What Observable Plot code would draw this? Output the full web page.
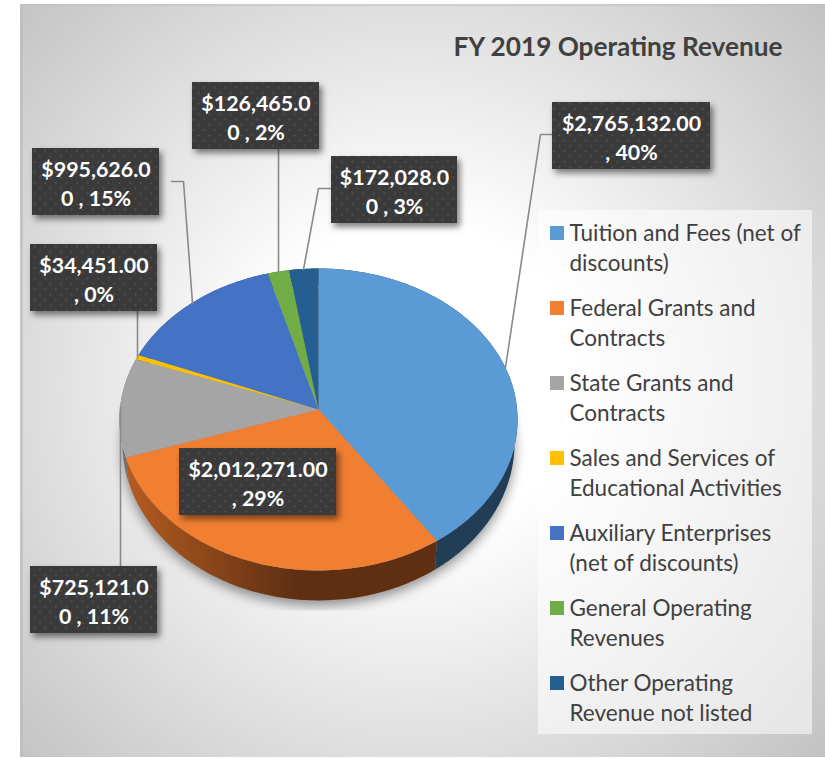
<!DOCTYPE html>
<html>
<head>
<meta charset="utf-8">
<script src="https://cdn.jsdelivr.net/npm/d3@7"></script>
<script src="https://cdn.jsdelivr.net/npm/@observablehq/plot@0.6"></script>
<style>
html,body{margin:0;padding:0;background:#fff}
svg{display:block}
</style>
</head>
<body>
<div id="chart"></div>
<script>
// ---- data ----
const categories = [
  "Tuition and Fees (net of discounts)",
  "Federal Grants and Contracts",
  "State Grants and Contracts",
  "Sales and Services of Educational Activities",
  "Auxiliary Enterprises (net of discounts)",
  "General Operating Revenues",
  "Other Operating Revenue not listed"
];
const values = [2765132, 2012271, 725121, 34451, 995626, 126465, 172028];
const percents = [40, 29, 11, 0, 15, 2, 3];
const colors = ["#5b9bd5", "#f07f32", "#a5a5a5", "#ffc000", "#4472c4", "#70ad47", "#255e91"];
const legendLines = [
  "Tuition and Fees (net of\ndiscounts)",
  "Federal Grants and\nContracts",
  "State Grants and\nContracts",
  "Sales and Services of\nEducational Activities",
  "Auxiliary Enterprises\n(net of discounts)",
  "General Operating\nRevenues",
  "Other Operating\nRevenue not listed"
];
const labelLines = [
  "$2,765,132.00\n, 40%",
  "$2,012,271.00\n, 29%",
  "$725,121.0\n0 , 11%",
  "$34,451.00\n, 0%",
  "$995,626.0\n0 , 15%",
  "$126,465.0\n0 , 2%",
  "$172,028.0\n0 , 3%"
];
const titleText = "FY 2019 Operating Revenue";

// ---- layout (page pixels) ----
const W = 825, H = 758;
const labelBoxes = [
  [552, 102, 710, 169], [179, 448, 336, 515], [30, 566, 157, 633], [30, 244, 157, 311],
  [32, 148, 159, 215], [192, 82, 319, 149], [331, 156, 457, 223]
];
const leaders = [
  [[552,134],[540,134],[505,367]],
  null,
  [[120,566],[120,407]],
  [[137,311],[137,357]],
  [[171,181],[183,181],[192,303]],
  [[278,149],[278,271]],
  [[331,188],[318,188],[303,269]]
];
const pieGeom = {cx: 318, cy: 409, rx: 198.6, ry: 150.3, k: 0.0662};
const wallFills = ["#223e56", "url(#orangeWall)", "#6d6d6d", "#a07a00", "#2c4a80", "#4a7230", "#1a4060"];

// ---- geometry derived from the values ----
const total = d3.sum(values);
const cumulative = d3.cumsum(values);
const boundaries = [0, ...cumulative].map(c => c / total * 360);

function topPt(deg) {
  const a = deg * Math.PI / 180, u = Math.sin(a), v = Math.cos(a), d = 1 + pieGeom.k * v;
  return [pieGeom.cx + pieGeom.rx * u / d, pieGeom.cy - pieGeom.ry * v / d];
}
function bottomPt(deg) {
  const [x, y] = topPt(deg);
  return [pieGeom.cx + (x - pieGeom.cx) * 0.985, 482 + 1.044 * (y - 457)];
}
function arcPts(fn, a0, a1) {
  const n = Math.max(2, Math.ceil(Math.abs(a1 - a0)));
  return d3.range(n + 1).map(i => fn(a0 + (a1 - a0) * i / n));
}
const faces = categories.flatMap((category, i) =>
  [[pieGeom.cx, pieGeom.cy], ...arcPts(topPt, boundaries[i], boundaries[i + 1])].map(([x, y]) => ({category, x, y}))
);
const walls = categories.map((category, i) =>
  [...arcPts(topPt, boundaries[i], boundaries[i + 1]), ...arcPts(bottomPt, boundaries[i + 1], boundaries[i])]
    .map(([x, y]) => ({category, x, y}))
);
const outline = arcPts(bottomPt, 0, 360).map(([x, y]) => ({x, y: y + 5}));

const labelRows = categories.map((category, i) => {
  const [x1, y1, x2, y2] = labelBoxes[i];
  return {category, x1, y1, x2, y2, text: labelLines[i], pct: percents[i], x: (x1 + x2) / 2, y: (y1 + y2) / 2};
});
const legendRows = categories.map((category, i) => ({
  category, text: legendLines[i],
  x1: 550, x2: 564, y1: 226 + 75 * i, y2: 240 + 75 * i, tx: 569, ty: 246 + 75 * i
}));
const leaderPts = leaders.flatMap((pts, i) => pts ? pts.map(([x, y]) => ({i, x, y})) : []);

const defsNode = document.createElementNS("http://www.w3.org/2000/svg", "g");
defsNode.innerHTML = `<defs>
<radialGradient id="bg" gradientUnits="userSpaceOnUse" cx="415" cy="380" r="560">
  <stop offset="0.28" stop-color="#ffffff"/><stop offset="1" stop-color="#c2c2c2"/>
</radialGradient>
<linearGradient id="orangeWall" gradientUnits="userSpaceOnUse" x1="125" y1="0" x2="295" y2="0">
  <stop offset="0" stop-color="#b55c20"/><stop offset="1" stop-color="#5f2f12"/>
</linearGradient>
<pattern id="dots" patternUnits="userSpaceOnUse" width="10.6" height="10.6">
  <rect width="10.6" height="10.6" fill="#3a3a3a"/>
  <rect x="2" y="2" width="1.6" height="1.6" fill="#555"/>
  <rect x="7.3" y="7.3" width="1.6" height="1.6" fill="#555"/>
</pattern>
<clipPath id="shadowClip"><rect x="105" y="250" width="427" height="360"/></clipPath>
</defs>`;

const fontName = "Lato";
const chart = Plot.plot({
  width: W, height: H,
  marginTop: 0, marginRight: 0, marginBottom: 0, marginLeft: 0,
  style: {background: "transparent", fontFamily: fontName},
  x: {domain: [0, W], range: [0, W], axis: null},
  y: {domain: [0, H], range: [0, H], axis: null},
  color: {type: "ordinal", domain: categories, range: colors},
  marks: [
    () => defsNode,
    // panel
    Plot.rect([{}], {x1: () => 20, x2: () => W, y1: () => 4, y2: () => 757, fill: "url(#bg)"}),
    Plot.ruleY([4.5], {x1: 20, x2: W, stroke: "#bdbdbd", strokeWidth: 1}),
    Plot.ruleX([21], {y1: 4, y2: 757, stroke: "#bcbcbc", strokeWidth: 2}),
    // pie shadow
    Plot.line(outline, {
      x: "x", y: "y", fill: "#000", fillOpacity: 0.42, stroke: "none",
      imageFilter: "blur(6px)"
    }),
    // walls
    ...walls.map((w, i) => Plot.line(w, {x: "x", y: "y", fill: wallFills[i], stroke: "none"})),
    // top faces
    Plot.line(faces, {x: "x", y: "y", z: "category", fill: "category", stroke: "none"}),
    // leader lines
    Plot.line(leaderPts, {x: "x", y: "y", z: "i", stroke: "#8a8a8a", strokeWidth: 1.6, strokeLinejoin: "miter"}),
    // labels
    Plot.rect(labelRows, {
      x1: "x1", x2: "x2", y1: "y1", y2: "y2", fill: "url(#dots)",
      imageFilter: "drop-shadow(3px 4px 3px rgba(0,0,0,0.5))"
    }),
    Plot.text(labelRows, {
      x: "x", y: "y", text: "text", fill: "#fff", fontSize: 21.4, fontWeight: 700,
      fontFamily: fontName, lineHeight: 1.36, textAnchor: "middle"
    }),
    // title
    Plot.text([titleText], {
      x: () => 617.5, y: () => 47, text: d => d, fill: "#404040", fontSize: 26.2, fontWeight: 700,
      fontFamily: fontName, textAnchor: "middle"
    }),
    // legend
    Plot.rect([{}], {x1: () => 538, x2: () => 812, y1: () => 210, y2: () => 734, fill: "#fff", fillOpacity: 0.55}),
    Plot.rect(legendRows, {x1: "x1", x2: "x2", y1: "y1", y2: "y2", fill: "category"}),
    Plot.text(legendRows, {
      x: "tx", y: "ty", text: "text", fill: "#404040", fontSize: 22.5,
      fontFamily: fontName, lineHeight: 1.33, textAnchor: "start"
    })
  ]
});
const shadowEl = chart.querySelector('g[fill="#000"]');
if (shadowEl) shadowEl.setAttribute("clip-path", "url(#shadowClip)");
document.getElementById("chart").append(chart);
</script>
</body>
</html>
